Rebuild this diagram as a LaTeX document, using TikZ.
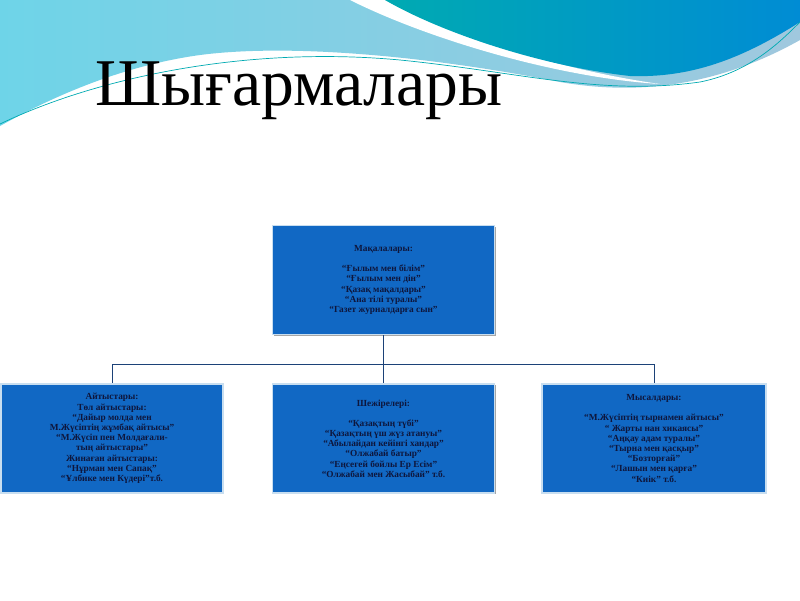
\documentclass[tikz,border=0pt]{standalone}
\usepackage{fontspec}
\setmainfont{Liberation Serif}
\usetikzlibrary{shadows}
\begin{document}
\begin{tikzpicture}[x=1pt,y=-1pt,
  workbox/.style={draw=boxEdge,line width=1.2pt,fill=boxFill,rectangle,
    minimum width=222pt,minimum height=109pt,inner sep=0pt,align=center,
    text=textColor,font=\bfseries\fontsize{9.3}{10.2}\selectfont,
    drop shadow={shadow xshift=1.2pt,shadow yshift=-1.2pt,fill=gray!70,opacity=1}},
  link/.style={draw=linkColor,line width=1pt}]
\definecolor{boxFill}{RGB}{17,104,196}
\definecolor{boxEdge}{RGB}{200,222,240}
\definecolor{textColor}{RGB}{14,22,60}
\definecolor{linkColor}{RGB}{28,66,120}
\definecolor{skyLeft}{RGB}{110,212,232}
\definecolor{skyRight}{RGB}{160,200,222}
\definecolor{tealLeft}{RGB}{0,170,178}
\definecolor{tealRight}{RGB}{0,140,212}
\path[use as bounding box,fill=white] (0,0) rectangle (800,600);

% top waves
\shade[left color=skyLeft,right color=skyRight] (0,0) -- (800,0) -- (800,40)
  .. controls (720,85) and (640,96) .. (560,82)
  .. controls (450,60) and (300,42) .. (200,55)
  .. controls (120,66) and (50,98) .. (0,126) -- cycle;
\fill[white] (350,0) -- (385,0) .. controls (450,35) and (560,70) .. (660,84)
  .. controls (560,78) and (430,40) .. (350,0) -- cycle;
\shade[left color=tealLeft,right color=tealRight] (385,0) -- (800,0) -- (800,22)
  .. controls (740,60) and (690,78) .. (630,76)
  .. controls (540,66) and (440,32) .. (385,0) -- cycle;
\draw[tealLeft,line width=0.7pt] (0,124) .. controls (100,76) and (250,46) .. (400,60)
  .. controls (520,72) and (600,96) .. (700,82) .. controls (750,72) and (780,42) .. (800,22);

\node[anchor=base west,inner sep=0pt,xscale=1.04,yscale=1.06,font=\fontsize{63}{68}\selectfont] (title) at (95,105) {Шығармалары};

\node[workbox] (articles) at (383.5,280) {Мақалалары:\\[10pt]
“Ғылым мен білім”\\“Ғылым мен дін”\\“Қазақ мақалдары”\\“Ана тілі туралы”\\“Газет журналдарға сын”};

\node[workbox] (aitys) at (112,438.5) {Айтыстары:\\Төл айтыстары:\\“Дайыр молда мен\\М.Жүсіптің жұмбақ айтысы”\\“М.Жүсіп пен Молдағали-\\тың айтыстары”\\Жинаған айтыстары:\\“Нұрман мен Сапақ”\\“Ұлбике мен Күдері”т.б.};

\node[workbox] (shezhire) at (383.5,438.5) {Шежірелері:\\[10pt]
“Қазақтың түбі”\\“Қазақтың үш жүз атануы”\\“Абылайдан кейінгі хандар”\\“Олжабай батыр”\\“Еңсегей бойлы Ер Есім”\\“Олжабай мен Жасыбай” т.б.};

\node[workbox,minimum width=224pt] (mysal) at (654,438.5) {Мысалдары:\\[10pt]
“М.Жүсіптің тырнамен айтысы”\\“ Жарты нан хикаясы”\\“Аңқау адам туралы”\\“Тырна мен қасқыр”\\“Бозторғай”\\“Лашын мен қарға”\\“Киік” т.б.};

% connectors
\coordinate (hub) at (383.5,364);
\draw[link] (articles.south) -- (shezhire.north);
\draw[link] (hub) -| (aitys.north);
\draw[link] (hub) -| (mysal.north);
\end{tikzpicture}
\end{document}
